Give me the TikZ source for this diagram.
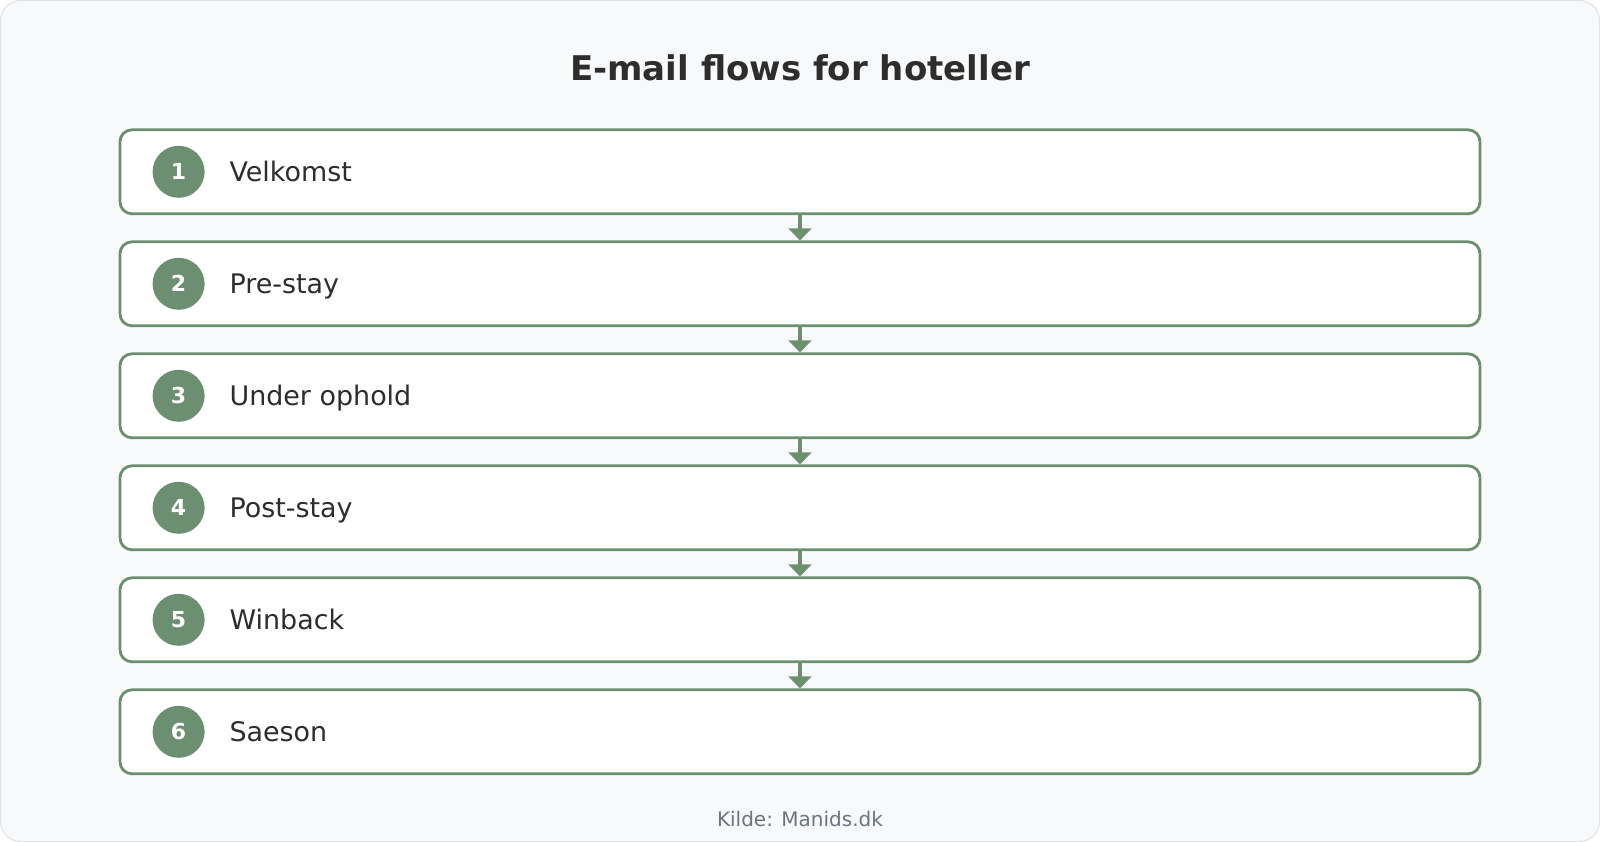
\documentclass[tikz,border=0pt]{standalone}
\usepackage{fontspec}
\setmainfont{DejaVu Sans}
\usepackage{tikz}
\usetikzlibrary{positioning, arrows.meta}

\definecolor{flowgreen}{HTML}{6C8F72}
\definecolor{flowtext}{HTML}{2D2D2D}
\definecolor{flowgrey}{HTML}{6C757D}
\definecolor{flowbg}{HTML}{F8F9FA}
\definecolor{flowedge}{HTML}{DEE2E6}

\tikzset{
	flowbox/.style={draw=flowgreen, line width=2.1pt, fill=white, rounded corners=9pt,
		minimum width=1020pt, minimum height=63pt, inner sep=0pt},
	numdot/.style={circle, fill=flowgreen, minimum size=39pt, inner sep=0pt,
		text=white, font=\fontsize{16.5}{18}\selectfont\bfseries},
	flowlabel/.style={anchor=west, inner sep=0pt, text=flowtext, text height=14.7pt, text depth=0pt,
		font=\fontsize{20.2}{23}\selectfont},
	flowarrow/.style={draw=flowgreen, line width=3pt, -{Triangle[width=17pt, length=9pt]}}
}

\begin{document}
\begin{tikzpicture}[node distance=84pt, on grid]
	\draw[fill=flowbg, draw=flowedge, line width=0.75pt, rounded corners=15pt]
		(0.375pt,-0.375pt) rectangle (1199.625pt,-631.125pt);
	\useasboundingbox (0,0) rectangle (1200pt,-631.5pt);
	
	\node[flowbox] (b1) at (600pt,-128.85pt) {};
	\node[flowbox, below=of b1] (b2) {};
	\node[flowbox, below=of b2] (b3) {};
	\node[flowbox, below=of b3] (b4) {};
	\node[flowbox, below=of b4] (b5) {};
	\node[flowbox, below=of b5] (b6) {};
	
	\node[numdot] (c1) at ([xshift=45pt]b1.west) {1};
	\node[numdot] (c2) at ([xshift=45pt]b2.west) {2};
	\node[numdot] (c3) at ([xshift=45pt]b3.west) {3};
	\node[numdot] (c4) at ([xshift=45pt]b4.west) {4};
	\node[numdot] (c5) at ([xshift=45pt]b5.west) {5};
	\node[numdot] (c6) at ([xshift=45pt]b6.west) {6};
	
	\node[flowlabel] (t1) at ([xshift=38pt]c1.center) {Velkomst};
	\node[flowlabel] (t2) at ([xshift=38pt]c2.center) {Pre-stay};
	\node[flowlabel] (t3) at ([xshift=38pt]c3.center) {Under ophold};
	\node[flowlabel] (t4) at ([xshift=38pt]c4.center) {Post-stay};
	\node[flowlabel] (t5) at ([xshift=38pt]c5.center) {Winback};
	\node[flowlabel] (t6) at ([xshift=38pt]c6.center) {Saeson};
	
	\node[above=78pt of b1, text=flowtext, font=\fontsize{25.5}{28}\selectfont\bfseries] (title)
		{E-mail flows for hoteller};
	\node[below=65.6pt of b6, text=flowgrey, font=\fontsize{15}{17}\selectfont] (source)
		{Kilde: Manids.dk};
	
	\draw[flowarrow] (b1.south) -- (b2.north);
	\draw[flowarrow] (b2.south) -- (b3.north);
	\draw[flowarrow] (b3.south) -- (b4.north);
	\draw[flowarrow] (b4.south) -- (b5.north);
	\draw[flowarrow] (b5.south) -- (b6.north);
\end{tikzpicture}
\end{document}
